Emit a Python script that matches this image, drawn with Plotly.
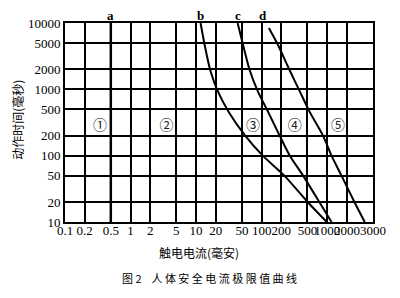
import math
import plotly.graph_objects as go

# Axis ticks
x_tick_vals = [0.1, 0.2, 0.5, 1, 2, 5, 10, 20, 50, 100, 200, 500, 1000, 2000, 5000]
x_tick_text = ["0.1", "0.2", "0.5", "1", "2", "5", "10", "20", "50", "100", "200", "500", "1000", "2000", "3000"]
y_tick_vals = [10, 20, 50, 100, 200, 500, 1000, 2000, 5000, 10000]
y_tick_text = ["10", "20", "50", "100", "200", "500", "1000", "2000", "5000", "10000"]

# Curve a (vertical at 0.5 mA)
a_current = [0.5, 0.5]
a_time = [10, 10000]

# Curve b
b_current = [11.7, 13.5, 16.5, 21.5, 31.6, 56.5, 104, 222, 515, 986]
b_time = [10000, 4700, 1920, 930, 453, 199, 100, 50, 19.5, 10]

# Curve c
c_current = [43, 52, 66, 87.5, 126, 189, 269, 429, 771, 1164]
c_time = [10000, 4700, 1920, 930, 453, 199, 100, 50, 19.5, 10]

# Curve d
d_current = [129, 177, 269, 382, 543, 866, 1164, 1652, 2636, 3742]
d_time = [8400, 4700, 1920, 930, 453, 199, 100, 50, 19.5, 10]

# Curve labels (at top)
curve_labels = ["a", "b", "c", "d"]
curve_label_x = [0.5, 11.7, 43, 105]

# Zone markers
zone_labels = ["①", "②", "③", "④", "⑤"]
zone_x = [0.342, 3.55, 74, 321, 1466]
zone_y = [274, 274, 274, 274, 274]

fig = go.Figure()

fig.add_trace(go.Scatter(x=a_current, y=a_time, mode="lines", line=dict(color="black", width=2.5)))
for xs, ys in [(b_current, b_time), (c_current, c_time), (d_current, d_time)]:
    fig.add_trace(go.Scatter(x=xs, y=ys, mode="lines",
                             line=dict(color="black", width=2, shape="spline", smoothing=0.7)))

fig.add_trace(go.Scatter(x=zone_x, y=zone_y, mode="text", text=zone_labels,
                         textfont=dict(family="Noto Sans CJK SC", size=14, color="#222")))

tick_font = dict(family="Liberation Serif", size=13, color="black")
fig.update_xaxes(type="log", range=[-1, 3.699], tickvals=x_tick_vals, ticktext=x_tick_text,
                 showgrid=True, gridcolor="black", gridwidth=1.6, zeroline=False,
                 showline=True, linecolor="black", linewidth=2, mirror=True,
                 ticks="", tickfont=tick_font, tickangle=0, ticklabelstandoff=-5)
fig.update_yaxes(type="log", range=[1, 4], tickvals=y_tick_vals, ticktext=y_tick_text,
                 showgrid=True, gridcolor="black", gridwidth=1.6, zeroline=False,
                 showline=True, linecolor="black", linewidth=2, mirror=True,
                 ticks="", tickfont=tick_font)

annotations = []
for lbl, lx in zip(curve_labels, curve_label_x):
    annotations.append(dict(x=math.log10(lx), y=1.037, xref="x", yref="paper",
                            xanchor="center", yanchor="middle", text="<b>" + lbl + "</b>",
                            showarrow=False, font=dict(family="Liberation Serif", size=13, color="black")))
annotations.append(dict(x=0.435, y=-0.151, xref="paper", yref="paper", xanchor="center", yanchor="middle",
                        text="触电电流(毫安)",
                        showarrow=False, font=dict(family="Noto Sans CJK SC", size=12, color="black")))
annotations.append(dict(x=0.468, y=-0.281, xref="paper", yref="paper", xanchor="center", yanchor="middle",
                        text="图 2    人 体 安 全 电 流 极 限 值 曲 线",
                        showarrow=False, font=dict(family="Noto Sans CJK SC", size=11, color="black")))
annotations.append(dict(x=-0.153, y=0.513, xref="paper", yref="paper", xanchor="center", yanchor="middle",
                        text="动作时间(毫秒)", textangle=-90, showarrow=False,
                        font=dict(family="Noto Sans CJK SC", size=12, color="black")))

fig.update_layout(width=400, height=298, margin=dict(l=65, r=27, t=23, b=76),
                  paper_bgcolor="white", plot_bgcolor="white", showlegend=False,
                  annotations=annotations)

fig.write_html("out.html")
